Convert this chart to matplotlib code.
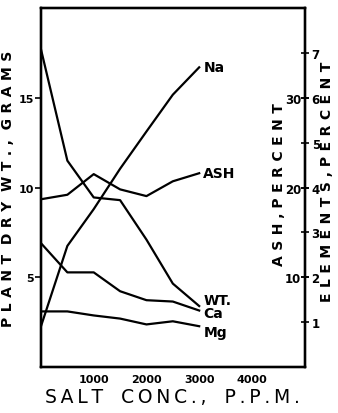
import matplotlib.pyplot as plt

# salt concentration, p.p.m.
salt_ppm = [0, 500, 1000, 1500, 2000, 2500, 3000]

# plant dry weight, grams (left axis)
dry_wt = [17.7, 11.5, 9.45, 9.3, 7.1, 4.65, 3.4]

# ash, percent (inner right axis)
ash_pct = [18.7, 19.2, 21.5, 19.8, 19.05, 20.7, 21.6]

# elements, percent (outer right axis)
na_pct = [0.91, 2.70, 3.52, 4.42, 5.25, 6.07, 6.68]
ca_pct = [2.76, 2.11, 2.11, 1.69, 1.49, 1.46, 1.26]
mg_pct = [1.24, 1.24, 1.15, 1.08, 0.95, 1.02, 0.91]

x_ticks = [1000, 2000, 3000, 4000]
wt_ticks = [5, 10, 15]
ash_ticks = [10, 20, 30]
el_ticks = [1, 2, 3, 4, 5, 6, 7]

LW = 1.6
THIN = "\u2009"


def spaced(text, n=1, gap="  "):
    # hand-lettered look: open up the letters a bit
    words = text.split(" ")
    return gap.join((THIN * n).join(w) for w in words)


fig = plt.figure(figsize=(3.38, 4.14), dpi=100)
ax = fig.add_axes([0.1213, 0.111, 0.78, 0.867])
ax_ash = ax.twinx()
ax_el = ax.twinx()

for a in (ax, ax_ash, ax_el):
    for s in a.spines.values():
        s.set_linewidth(1.6)
    a.patch.set_visible(False)

ax.set_xlim(0, 5000)
ax.set_ylim(0, 20)
ax_ash.set_ylim(0, 40)
ax_el.set_ylim(0, 8)

ax.plot(salt_ppm, dry_wt, color="black", lw=LW)
ax_ash.plot(salt_ppm, ash_pct, color="black", lw=LW)
ax_el.plot(salt_ppm, na_pct, color="black", lw=LW)
ax_el.plot(salt_ppm, ca_pct, color="black", lw=LW)
ax_el.plot(salt_ppm, mg_pct, color="black", lw=LW)

# x axis
ax.set_xticks(x_ticks)
ax.set_xticklabels([str(v) for v in x_ticks], fontsize=8, fontweight="bold")
ax.tick_params(axis="x", length=0, pad=5)
ax.set_xlabel(spaced("SALT CONC., P.P.M.", 1, "   "), fontsize=13.5, labelpad=2)

# left axis
ax.set_yticks(wt_ticks)
ax.set_yticklabels([str(v) for v in wt_ticks], fontsize=8, fontweight="bold")
ax.tick_params(axis="y", direction="out", length=4, width=1.2, pad=1)
ax.set_ylabel(spaced("PLANT DRY WT., GRAMS", 2, "  "), fontsize=10,
              fontweight="bold", labelpad=3)

# ash axis: labels inside, left of right spine
ax_ash.set_yticks(ash_ticks)
ax_ash.set_yticklabels([str(v) for v in ash_ticks], fontsize=8.5, fontweight="bold")
ax_ash.tick_params(axis="y", direction="inout", length=6, width=1.2, pad=-5.5)
for lab in ax_ash.get_yticklabels():
    lab.set_horizontalalignment("right")

# elements axis
ax_el.set_yticks(el_ticks)
ax_el.set_yticklabels([str(v) for v in el_ticks], fontsize=8.5, fontweight="bold")
ax_el.tick_params(axis="y", direction="inout", length=6, width=1.2, pad=2)

fig.text(0.824, 0.555, spaced("ASH , PERCENT", 2, " "), rotation=90, fontsize=10,
         fontweight="bold", ha="center", va="center")
fig.text(0.966, 0.56, spaced("ELEMENTS , PERCENT", 2, " "), rotation=90, fontsize=10,
         fontweight="bold", ha="center", va="center")

# line labels
lab_kw = dict(textcoords="offset points", fontsize=10, fontweight="bold",
              ha="left", va="center")
ax_el.annotate("Na", (salt_ppm[-1], na_pct[-1]), xytext=(3, 0), **lab_kw)
ax_ash.annotate("ASH", (salt_ppm[-1], ash_pct[-1]), xytext=(3, 0), **lab_kw)
ax.annotate("WT.", (salt_ppm[-1], dry_wt[-1]), xytext=(3, 4), **lab_kw)
ax_el.annotate("Ca", (salt_ppm[-1], ca_pct[-1]), xytext=(3, -2), **lab_kw)
ax_el.annotate("Mg", (salt_ppm[-1], mg_pct[-1]), xytext=(3, -4.5), **lab_kw)

fig.savefig("out.png", dpi=100)
